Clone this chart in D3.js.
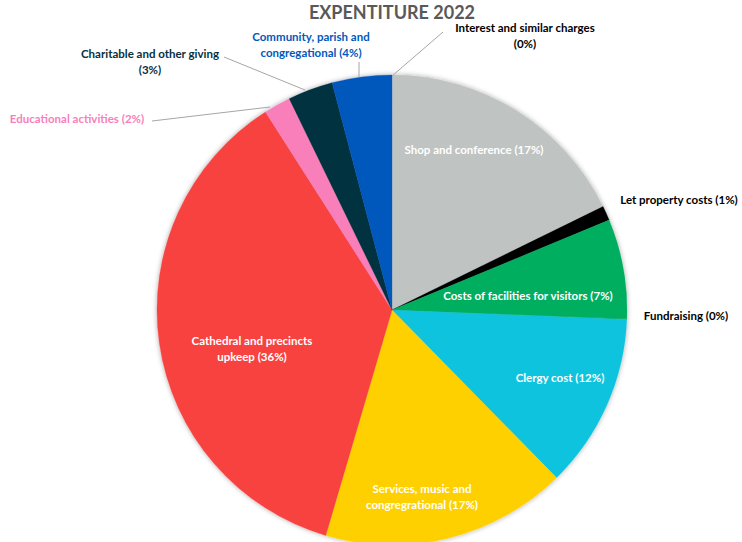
<!DOCTYPE html>
<html>
<head>
<meta charset="utf-8">
<script src="https://cdn.jsdelivr.net/npm/d3@7"></script>
<style>
  body { margin: 0; background: #fff; }
  svg { font-family: Lato, "Open Sans", sans-serif; }
</style>
</head>
<body>
<div id="chart"></div>
<script>
const width = 742;
const height = 542;
const cx = 392, cy = 310, radius = 235;

// expenditure shares (percent), clockwise from 12 o'clock
const categories = [
  'Interest and similar charges', 'Shop and conference', 'Let property costs',
  'Costs of facilities for visitors', 'Fundraising', 'Clergy cost',
  'Services, music and congregrational', 'Cathedral and precincts upkeep',
  'Educational activities', 'Charitable and other giving',
  'Community, parish and congregational'
];
const values = [0.05, 17.7, 1.0, 6.85, 0.05, 12.0, 16.9, 36.4, 1.85, 3.1, 4.1];
const pctLabels = ['0%', '17%', '1%', '7%', '0%', '12%', '17%', '36%', '2%', '3%', '4%'];
const colors = ['#bfc3c1', '#bfc3c1', '#000000', '#00ae5f', '#00ae5f', '#10c3dd',
  '#ffd000', '#f8423f', '#f87fb9', '#06303f', '#0058bd'];

// label layout: lines, anchor position, leader line
const labelLayout = [
  { lines: ['Interest and similar charges', '(0%)'], x: 525, y: 32, fill: '#000', leader: [[392, 76], [443, 32]] },
  { lines: ['Shop and conference (17%)'], x: 474, y: 154, fill: '#fff' },
  { lines: ['Let property costs (1%)'], x: 679, y: 204, fill: '#000' },
  { lines: ['Costs of facilities for visitors (7%)'], x: 528, y: 300, fill: '#fff' },
  { lines: ['Fundraising (0%)'], x: 686, y: 320, fill: '#000' },
  { lines: ['Clergy cost (12%)'], x: 560, y: 382, fill: '#fff' },
  { lines: ['Services, music and', 'congregrational (17%)'], x: 422, y: 493, fill: '#fff' },
  { lines: ['Cathedral and precincts', 'upkeep (36%)'], x: 252, y: 345, fill: '#fff' },
  { lines: ['Educational activities (2%)'], x: 77, y: 123, fill: '#f87fb9', leader: [[152, 121], [270, 107]] },
  { lines: ['Charitable and other giving', '(3%)'], x: 150, y: 58, fill: '#06303f', leader: [[224, 57], [305, 90]] },
  { lines: ['Community, parish and', 'congregational (4%)'], x: 311, y: 41, fill: '#0058bd', leader: [[359, 77], [359, 62]] }
];

const svg = d3.select('#chart').append('svg')
  .attr('width', width)
  .attr('height', height);

const defs = svg.append('defs');
defs.append('filter').attr('id', 'shadow')
  .attr('x', '-10%').attr('y', '-10%').attr('width', '120%').attr('height', '120%')
  .append('feDropShadow')
  .attr('dx', 0).attr('dy', 0).attr('stdDeviation', 2.5)
  .attr('flood-color', '#000').attr('flood-opacity', 0.35);

svg.append('text')
  .attr('x', cx).attr('y', 19)
  .attr('text-anchor', 'middle')
  .attr('font-size', 18).attr('font-weight', 'bold')
  .attr('fill', '#595959')
  .text('EXPENTITURE 2022');

const pie = d3.pie().sort(null).value(d => d);
const arc = d3.arc().innerRadius(0).outerRadius(radius);
const arcs = pie(values);

const g = svg.append('g').attr('transform', `translate(${cx},${cy})`);
g.append('g').attr('filter', 'url(#shadow)')
  .selectAll('path')
  .data(arcs)
  .join('path')
  .attr('d', arc)
  .attr('fill', (d, i) => colors[i])
  .attr('stroke', (d, i) => colors[i])
  .attr('stroke-width', 0.3);

// leader lines
svg.append('g').selectAll('polyline')
  .data(labelLayout.filter(d => d.leader))
  .join('polyline')
  .attr('points', d => d.leader.map(p => p.join(',')).join(' '))
  .attr('fill', 'none')
  .attr('stroke', '#a6a6a6')
  .attr('stroke-width', 1);

// labels
const labels = svg.append('g').selectAll('text')
  .data(labelLayout)
  .join('text')
  .attr('text-anchor', 'middle')
  .attr('font-size', 11.5)
  .attr('font-weight', 'bold')
  .attr('fill', d => d.fill);

labels.selectAll('tspan')
  .data(d => d.lines.map(l => ({ l, x: d.x, y: d.y })))
  .join('tspan')
  .attr('x', d => d.x)
  .attr('y', (d, i) => d.y + i * 16)
  .text(d => d.l);
</script>
</body>
</html>
